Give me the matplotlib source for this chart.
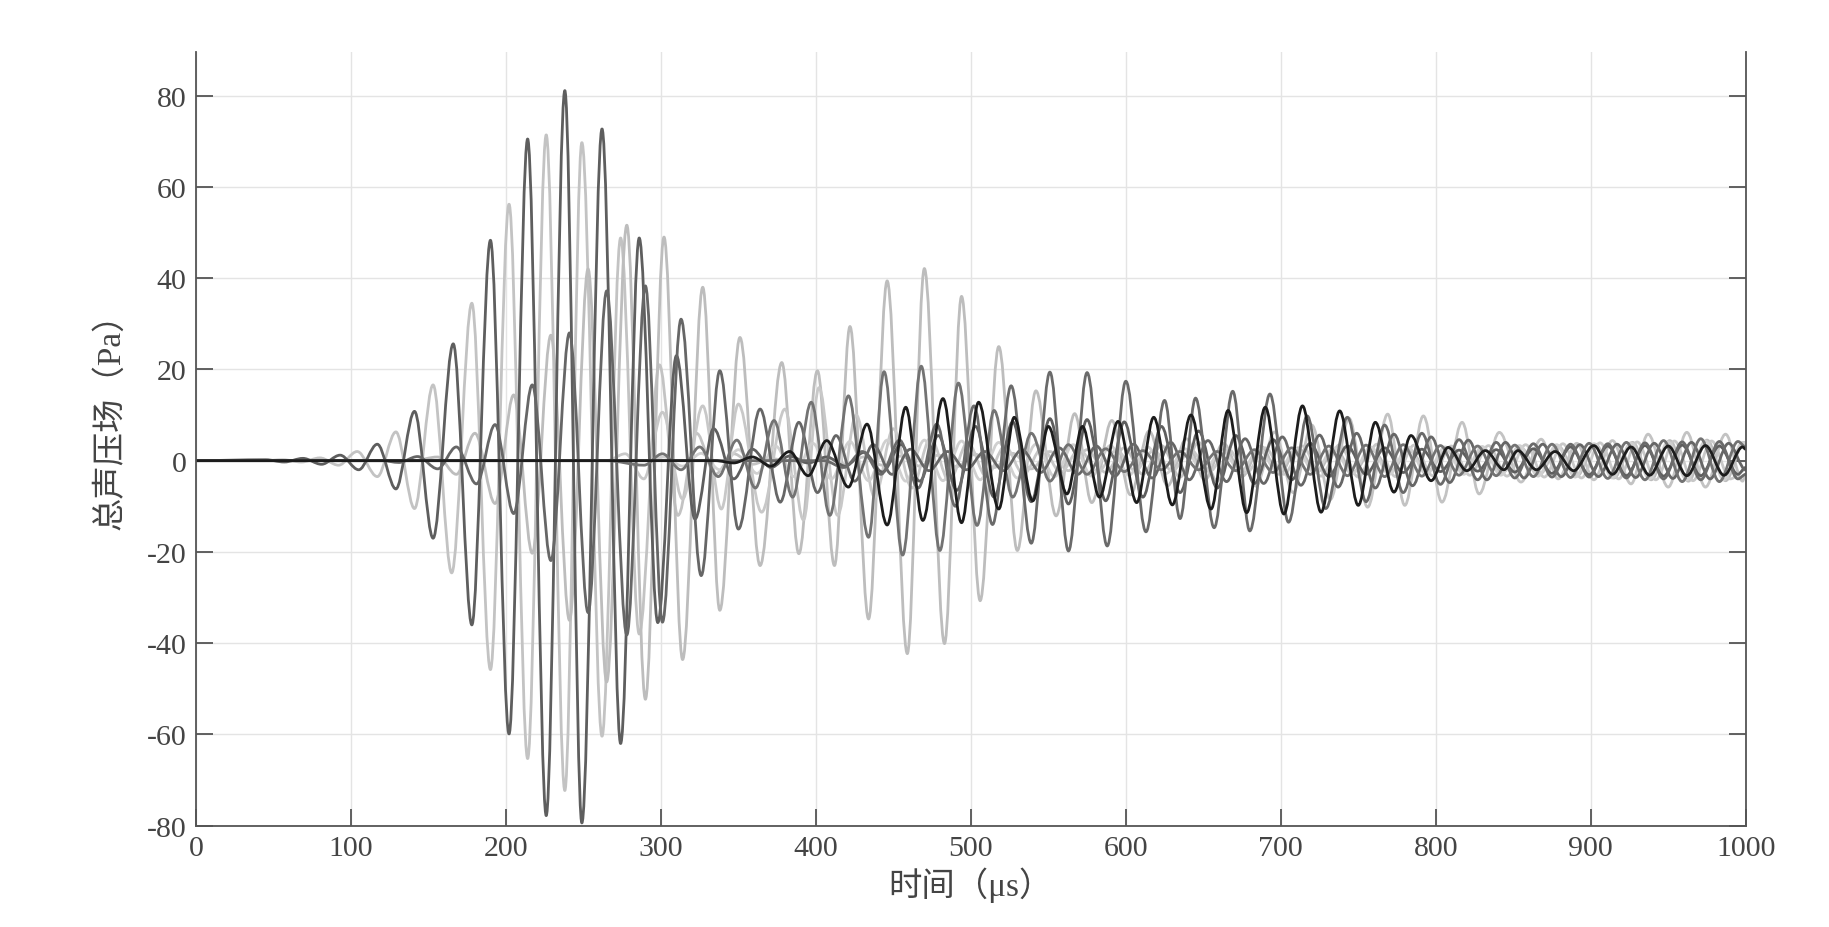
import matplotlib
matplotlib.use("Agg")
import matplotlib.pyplot as plt
from matplotlib.path import Path
from matplotlib.patches import PathPatch

plt.rcParams['font.family'] = ['Liberation Serif', 'Noto Sans CJK SC', 'DejaVu Sans']

# ---------------- data: extrema (time µs, pressure Pa) ----------------
x_ticks = [0, 100, 200, 300, 400, 500, 600, 700, 800, 900, 1000]
y_ticks = [-80, -60, -40, -20, 0, 20, 40, 60, 80]
x_label = "时间（μs）"
y_label = "总声压场（Pa）"

wave_a = [(0,0),(45,0.2),(57,-0.3),(69,0.5),(81,-0.8),(93,1.2),(105,-2),(117,3.6),(129,-6.2),(141,10.8),
          (153,-17),(166,25.6),(178,-36),(190,48.3),(202,-59.9),(214,70.5),(226,-77.8),(238,81.1),(249,-79.4),
          (262,72.7),(274,-62),(286,48.8),(298,-35.5),(310,23),(322,-12.8),(334,7),(347,-4),(359,2.5),(371,-1.5),
          (383,1),(395,-0.5),(407,0.8),(419,-1.2),(431,1.8),(443,-2.5),(455,3.5),(467,-4.5),(479,5.5),(491,-6.5),
          (503,7.5),(515,-8),(527,8.5),(539,-9),(551,9.2),(563,-9.5),(575,9),(587,-8.8),(599,8.5),(611,-8),
          (623,7.5),(635,-7),(647,6.5),(659,-6),(671,5.5),(683,-5),(695,4.6),(707,-4.2),(719,3.8),(731,-3.5),
          (743,3.2),(755,-3),(767,2.8),(779,-2.6),(791,2.5),(803,-2.4),(815,2.3),(827,-2.3),(839,2.4),(851,-2.5),
          (863,2.6),(875,-2.8),(887,3),(899,-3.1),(911,3.2),(923,-3.3),(935,3.3),(947,-3.4),(959,3.4),(971,-3.3),
          (983,3.2),(995,-3),(1000,-1.5)]

wave_b = [(0,0),(44,0),(56,0.2),(68,-0.3),(80,0.6),(92,-1),(104,2),(117,-3.5),(129,6.3),(141,-10.5),(153,16.6),
          (165,-24.6),(178,34.5),(190,-45.8),(202,56.2),(214,-65.3),(226,71.4),(238,-72.3),(249,69.7),(262,-60.4),
          (274,48.8),(286,-38),(299,21),(311,-12),(323,6),(335,-3),(347,1.5),(359,-0.8),(371,0.4),(383,0),
          (395,-0.5),(407,0.6),(419,-0.7),(431,0.8),(443,-1),(455,1),(467,-1.2),(479,1.2),(491,-1.3),(503,1.4),
          (515,-1.5),(527,1.6),(539,-1.8),(551,2),(563,-2.2),(575,2.4),(587,-2.6),(599,2.8),(611,-3),(623,3.3),
          (635,-3.6),(647,4),(659,-4.5),(671,5),(684,-5.6),(696,6.3),(708,-7),(720,7.8),(732,-8.5),(744,9.3),
          (756,-10.2),(769,10.2),(780,-9.8),(792,9.8),(804,-9.1),(817,8.4),(828,-7.3),(841,6.2),(855,-4.7),
          (868,4.7),(879,-4),(891,3.8),(902,-4.2),(914,4.4),(926,-5.1),(937,5.8),(950,-5.8),(962,6.2),(974,-5.8),
          (987,5.8),(998,-4.5),(1000,-3)]

wave_c = [(0,0),(120,0),(131,-0.4),(143,0.9),(156,-1.8),(168,3),(181,-5.1),(193,7.9),(205,-11.6),(217,16.6),
          (229,-21.9),(241,28),(253,-33.3),(265,37.2),(278,-38.2),(290,38.3),(301,-35.4),(313,31),(326,-25.2),
          (338,19.7),(350,-15),(364,11.3),(377,-9.1),(389,8.4),(401,-7),(413,5.5),(425,-4.5),(437,3.5),(449,-3),
          (461,2.5),(473,-2.2),(485,2),(497,-2),(509,2),(521,-2.2),(533,2.4),(545,-2.6),(557,2.8),(569,-3),
          (581,3.2),(593,-3.4),(605,3.6),(617,-3.8),(629,4),(641,-4.2),(653,4.4),(665,-4.6),(677,4.8),(689,-5),
          (701,5.2),(713,-5.4),(725,5.6),(737,-5.8),(749,6),(761,-6),(773,5.8),(785,-5.5),(797,5.2),(809,-4.8),
          (821,4.5),(833,-4.2),(845,4),(857,-3.8),(869,3.6),(881,-3.5),(893,3.5),(905,-3.5),(917,3.6),(929,-3.7),
          (941,3.8),(953,-3.9),(965,4),(977,-4),(989,3.8),(1000,-2)]

wave_d = [(0,0),(140,0),(156,0.8),(168,-3),(180,6),(193,-9.4),(205,14.4),(217,-20.3),(229,27.5),(241,-35),
          (253,42),(265,-48.5),(278,51.6),(290,-52.3),(302,49),(314,-43.6),(327,38),(338,-32.8),(351,27),
          (364,-23),(378,21.5),(389,-20.4),(401,19.7),(412,-23),(422,29.4),(434,-34.7),(446,39.4),(459,-42.3),
          (470,42.1),(483,-40.1),(494,36),(506,-30.7),(518,25),(530,-19.7),(542,15.3),(555,-12.1),(567,10.3),
          (578,-9.2),(591,8.8),(603,-7.5),(615,6.5),(627,-5.5),(639,4.8),(651,-4.2),(663,3.8),(675,-3.5),
          (687,3.2),(699,-3),(711,2.8),(723,-2.6),(735,2.5),(747,-2.4),(759,2.3),(771,-2.2),(783,2.2),(795,-2.2),
          (807,2.3),(819,-2.4),(831,2.5),(843,-2.6),(855,2.8),(867,-3),(879,3.2),(891,-3.4),(903,3.6),(915,-3.8),
          (927,4),(939,-4.2),(951,4.4),(963,-4.5),(975,4.5),(987,-4.4),(999,4)]

wave_e = [(0,0),(265,0),(277,1.5),(289,-4),(301,10.6),(314,-8.4),(327,12),(339,-10.6),(350,12.4),(365,-11.3),
          (380,11.3),(392,-13),(402,16),(414,-12),(426,10),(438,-8),(450,7),(462,-6),(474,5),(486,-4.5),(498,4),
          (510,-3.5),(522,3.2),(534,-3),(546,2.8),(558,-2.6),(570,2.5),(582,-2.4),(594,2.3),(606,-2.2),(618,2.2),
          (630,-2.2),(642,2.3),(654,-2.4),(666,2.5),(678,-2.6),(690,2.8),(702,-3),(714,3.2),(726,-3.4),(738,3.5),
          (750,-3.6),(762,3.6),(774,-3.5),(786,3.4),(798,-3.3),(810,3.2),(822,-3.2),(834,3.3),(846,-3.4),(858,3.5),
          (870,-3.6),(882,3.7),(894,-3.8),(906,3.9),(918,-4),(930,4.1),(942,-4.2),(954,4.3),(966,-4.4),(978,4.3),
          (990,-4),(1000,-2)]

wave_s = [(0,0),(290,0),(302,0.8),(314,-1.2),(326,1.6),(338,-2),(350,2.4),(362,-2.8),(374,3.2),(386,-3.5),
          (398,3.8),(410,-4),(422,4.2),(434,-4.4),(446,4.5),(458,-4.5),(470,4.5),(482,-4.4),(494,4.3),(506,-4.2),
          (518,4),(530,-3.8),(542,3.6),(554,-3.5),(566,3.5),(578,-3.4),(590,3.3),(602,-3.2),(614,3),(626,-2.8),
          (638,2.6),(650,-2.5),(662,2.4),(674,-2.4),(686,2.4),(698,-2.5),(710,2.6),(722,-2.7),(734,2.8),(746,-2.9),
          (758,3),(770,-3),(782,3),(794,-3),(806,3),(818,-3),(830,3.1),(842,-3.2),(854,3.3),(866,-3.4),(878,3.5),
          (890,-3.6),(902,3.7),(914,-3.8),(926,3.9),(938,-4),(950,4.1),(962,-4.2),(974,4.3),(986,-4.2),(998,4),
          (1000,3.5)]

wave_m1 = [(0,0),(265,0),(289,-1),(301,1.5),(313,-2),(325,3),(337,-3.5),(349,4.5),(361,-6),(373,8.8),(385,-8),
           (397,12.8),(409,-12),(421,14.2),(434,-16.8),(444,19.5),(456,-20.7),(468,20.7),(480,-19.7),(492,17),
           (504,-14.2),(515,11),(527,-8),(539,6),(551,-4.5),(563,3.5),(575,-3),(587,2.6),(599,-2.4),(611,2.2),
           (623,-2),(635,2),(647,-2),(659,2),(671,-2.2),(683,2.4),(695,-2.6),(707,2.8),(719,-3),(731,3.2),
           (743,-3.3),(755,3.4),(767,-3.5),(779,3.5),(791,-3.4),(803,3.3),(815,-3.2),(827,3.2),(839,-3.3),
           (851,3.4),(863,-3.5),(875,3.6),(887,-3.7),(899,3.8),(911,-3.9),(923,4),(935,-4.2),(947,4.4),(959,-4.6),
           (971,4.8),(983,-4.6),(995,4.2),(1000,3)]

wave_m2 = [(0,0),(405,0),(418,-1.5),(430,2),(442,-3),(454,4.5),(466,-6),(478,8),(490,-10),(502,12),(514,-14),
           (526,16.4),(539,-18.1),(551,19.4),(563,-19.8),(575,19.3),(588,-18.7),(600,17.4),(613,-15.6),(625,13.2),
           (635,-12.7),(645,13.7),(657,-14.7),(669,15.2),(680,-15.4),(693,14.6),(705,-13.5),(717,9.8),(729,-10.5),
           (743,9.5),(755,-9),(767,7.8),(779,-7),(791,6),(803,-5.2),(815,4.6),(827,-4.2),(839,4),(851,-3.8),
           (863,3.7),(875,-3.6),(887,3.6),(899,-3.6),(911,3.7),(923,-3.8),(935,3.9),(947,-4),(959,4.1),(971,-4.2),
           (983,4.2),(995,-4),(1000,-3)]

wave_k = [(0,0),(335,0),(347,-0.5),(359,0.8),(371,-1.2),(383,2),(395,-3.3),(407,4.4),(421,-5.8),(433,8),
          (446,-14.1),(458,11.7),(469,-13.1),(482,13.6),(494,-13.6),(505,12.8),(518,-10.6),(528,9.5),(540,-8.8),
          (550,7.5),(562,-7.3),(572,7.5),(583,-8),(595,8.6),(607,-9.2),(618,9.5),(630,-9.7),(642,10),(655,-10.6),
          (666,11),(678,-11.4),(690,11.7),(702,-11.7),(714,12),(726,-11.3),(738,10.9),(750,-9.8),(761,8.4),
          (773,-6.9),(784,5.5),(797,-4.4),(808,2.9),(820,-2.2),(832,2.2),(844,-2),(853,2.2),(865,-2),(877,2),
          (889,-2.2),(902,3.3),(914,-3),(926,3),(938,-3.2),(950,3.2),(962,-3.3),(974,3.3),(986,-3.2),(998,3),
          (1000,2.5)]

# drawing order and grey levels
series = [
    (wave_b, "#c3c3c3"),
    (wave_d, "#bdbdbd"),
    (wave_e, "#c8c8c8"),
    (wave_s, "#d0d0d0"),
    (wave_a, "#5e5e5e"),
    (wave_c, "#666666"),
    (wave_m1, "#737373"),
    (wave_m2, "#6a6a6a"),
    (wave_k, "#1c1c1c"),
]

# ---------------- figure ----------------
fig = plt.figure(figsize=(18.29, 9.28), dpi=100)
ax = fig.add_axes([0.10716, 0.1092, 0.8473, 0.8334])

K = 0.34  # handle length of the cubic segments (horizontal tangent at each extremum)
for pts, col in series:
    verts = [pts[0]]
    codes = [Path.MOVETO]
    for (t0, v0), (t1, v1) in zip(pts[:-1], pts[1:]):
        dt = t1 - t0
        verts += [(t0 + K * dt, v0), (t1 - K * dt, v1), (t1, v1)]
        codes += [Path.CURVE4, Path.CURVE4, Path.CURVE4]
    ax.add_patch(PathPatch(Path(verts, codes), facecolor="none", edgecolor=col,
                           lw=2.0, joinstyle="round", capstyle="round"))

ax.set_xlim(0, 1000)
ax.set_ylim(-80, 89.5)
ax.set_xticks(x_ticks)
ax.set_yticks(y_ticks)
ax.set_xticklabels([str(x) for x in x_ticks])
ax.set_yticklabels([str(y) for y in y_ticks])

ax.grid(True, color="#e4e4e4", lw=1.0)
ax.set_axisbelow(True)

spine_col = "#555555"
for side in ("left", "bottom", "right"):
    ax.spines[side].set_color(spine_col)
    ax.spines[side].set_linewidth(1.3)
ax.spines["top"].set_visible(False)

ax.tick_params(axis="both", which="both", direction="in", length=12, width=1.3,
               color=spine_col, labelcolor="#444444", labelsize=21.5, pad=7,
               right=True, top=False)

ax.set_xlabel(x_label, fontsize=24, color="#444444")
ax.set_ylabel(y_label, fontsize=24, color="#444444")
ax.xaxis.set_label_coords(0.5, -0.0757)
ax.xaxis.label.set_verticalalignment("center")
ax.yaxis.set_label_coords(-0.0549, 0.535)
ax.yaxis.label.set_verticalalignment("center")

fig.savefig("out.png", dpi=100, facecolor="white")
